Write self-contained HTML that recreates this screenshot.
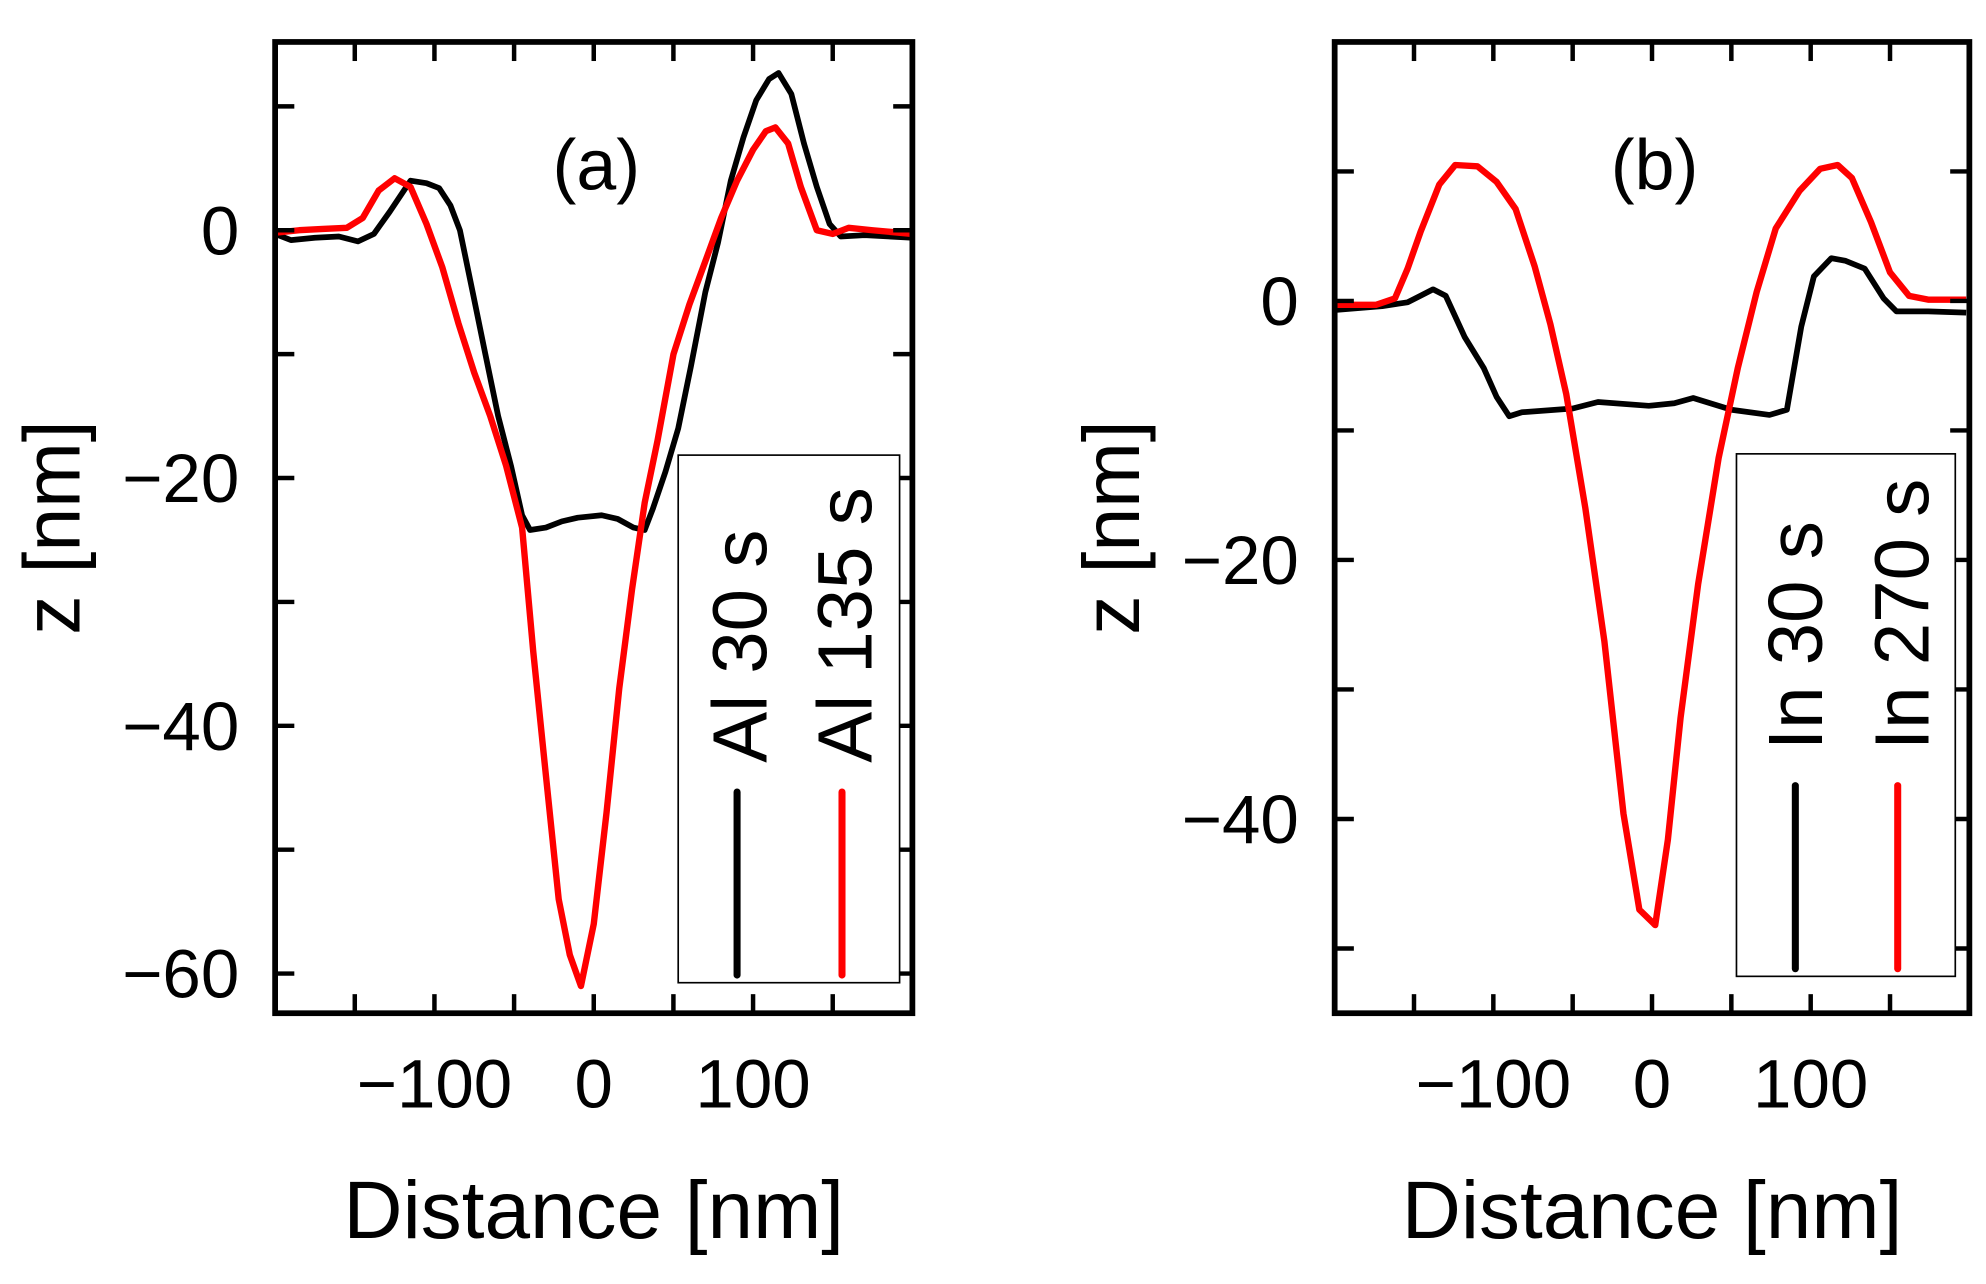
<!DOCTYPE html>
<html><head><meta charset="utf-8"><style>
html,body{margin:0;padding:0;background:#fff;}
svg{display:block;}
text{font-family:"Liberation Sans",Arial,sans-serif;fill:#000;}
</style></head>
<body>
<svg id="fig" width="1986" height="1284" viewBox="0 0 1552 1010" preserveAspectRatio="none" xmlns="http://www.w3.org/2000/svg"></svg>
<script>
// Panel (a) data
const aBlackX = [-200,-190,-175,-160,-148,-138,-128,-115,-105,-97,-90,-84,-76,-68,-60,-52,-45,-40,-30,-20,-10,5,15,25,32,37,45,53,61,70,78,86,94,102,110,116,124,132,140,148,155,170,200];
const aBlackY = [-0.3,-0.8,-0.6,-0.5,-0.9,-0.3,1.5,4,3.8,3.4,2,0,-5,-10,-15,-19,-23,-24.2,-24,-23.5,-23.2,-23,-23.3,-24,-24.2,-22.5,-19.5,-16,-11,-5,-1,4,7.5,10.5,12.2,12.7,11,7,3.5,0.5,-0.5,-0.4,-0.6];
const aRedX = [-200,-185,-170,-155,-145,-135,-125,-115,-105,-95,-85,-75,-65,-55,-45,-38,-30,-22,-15,-8,0,8,16,24,32,40,50,60,70,80,90,100,108,114,122,130,140,150,160,175,200];
const aRedY = [-0.2,0,0.1,0.2,1,3.2,4.2,3.5,0.5,-3,-7.5,-11.5,-15,-19,-24,-34,-44,-54,-58.5,-61,-56,-47,-37,-29,-22,-17,-10,-6,-2.5,1,4,6.5,8,8.3,7,3.5,0,-0.3,0.2,0,-0.3];
// Panel (b) data
const bBlackX = [-200,-170,-154,-146,-138,-130,-118,-106,-98,-90,-82,-50,-34,-2,14,26,50,74,85,94,102,113,122,134,146,154,174,198];
const bBlackY = [-0.7,-0.4,-0.1,0.4,0.9,0.4,-2.8,-5.2,-7.4,-8.9,-8.6,-8.3,-7.8,-8.1,-7.9,-7.5,-8.4,-8.8,-8.4,-2,1.9,3.3,3.1,2.5,0.2,-0.8,-0.8,-0.9];
const bRedX = [-200,-174,-162,-154,-146,-134,-124,-110,-98,-86,-74,-64,-54,-42,-30,-18,-8,2,10,18,29,42,54,66,78,93,106,117,126,138,150,162,174,198];
const bRedY = [-0.3,-0.3,0.2,2.5,5.3,9,10.5,10.4,9.2,7.1,2.7,-1.8,-7.2,-16,-26.3,-39.6,-47,-48.2,-41.6,-32.2,-21.9,-12.1,-5.2,0.7,5.6,8.5,10.2,10.5,9.5,6.1,2.2,0.4,0.1,0.1];
const xTicks = [-150,-100,-50,0,50,100,150];
const xLabels = [-100,0,100];
const aYTicks = [10,0,-10,-20,-30,-40,-50,-60];
const aYLabels = [0,-20,-40,-60];
const bYTicks = [10,0,-10,-20,-30,-40,-50];
const bYLabels = [0,-20,-40];

const NS="http://www.w3.org/2000/svg";
const svg=document.getElementById('fig');
function mk(tag,attrs,parent){const e=document.createElementNS(NS,tag);for(const k in attrs)e.setAttribute(k,attrs[k]);(parent||svg).appendChild(e);return e;}

function panel(cfg){
  const g=mk('g',{});
  
  
  const L=cfg.L,R=cfg.R,T=33,B=797;
  const sx=v=>L+(v+200)/400*(R-L);
  const sy=v=>T+(cfg.ymax-v)/(cfg.ymax-cfg.ymin)*(B-T);
  const clipId='clip'+cfg.tag;
  const cp=mk('clipPath',{id:clipId},g);mk('rect',{x:L,y:T,width:R-L,height:B-T},cp);
  cfg.series.forEach(s=>{
    const d=s.x.map((v,i)=>(i?'L':'M')+sx(v).toFixed(1)+','+sy(s.y[i]).toFixed(1)).join(' ');
    const p=mk('path',{d:d,fill:'none',stroke:s.color,'stroke-width':s.w,'stroke-linejoin':'round','clip-path':'url(#'+clipId+')'},g);
    
    
  });
  xTicks.forEach(v=>{
    mk('line',{x1:sx(v),x2:sx(v),y1:B,y2:B-15,stroke:'#000','stroke-width':3.5},g);
    mk('line',{x1:sx(v),x2:sx(v),y1:T,y2:T+15,stroke:'#000','stroke-width':3.5},g);
  });
  cfg.yTicks.forEach(v=>{
    mk('line',{x1:L,x2:L+15,y1:sy(v),y2:sy(v),stroke:'#000','stroke-width':3.5},g);
    mk('line',{x1:R,x2:R-15,y1:sy(v),y2:sy(v),stroke:'#000','stroke-width':3.5},g);
  });
  const fr=mk('rect',{x:L,y:T,width:R-L,height:B-T,fill:'none',stroke:'#000','stroke-width':4.5},g);
  
  
  xLabels.forEach(v=>{
    const t=mk('text',{x:sx(v),y:871,'font-size':54,'text-anchor':'middle'},g);
    t.textContent=(v<0?'\u2212':'')+Math.abs(v);
    
    
  });
  cfg.yLabels.forEach(v=>{
    const t=mk('text',{x:L-28,y:sy(v)+19,'font-size':54,'text-anchor':'end'},g);
    t.textContent=(v<0?'\u2212':'')+Math.abs(v);
    
    
  });
  const xt=mk('text',{x:(L+R)/2,y:974,'font-size':64,'text-anchor':'middle'},g);
  xt.textContent='Distance [nm]';
  
  
  const yt=mk('text',{x:0,y:0,'font-size':62,'text-anchor':'middle',transform:'translate('+cfg.ytx+',415) rotate(-90)'},g);
  yt.textContent='z [nm]';
  
  
  const pl=mk('text',{x:(L+R)/2+2,y:149,'font-size':56,'text-anchor':'middle'},g);
  pl.textContent=cfg.label;
  
  
  const lg=mk('g',{},g);
  
  
  mk('rect',{x:cfg.lx1,y:cfg.ly1,width:cfg.lx2-cfg.lx1,height:cfg.ly2-cfg.ly1,fill:'#fff',stroke:'#000','stroke-width':1.3},lg);
  cfg.legend.forEach(e=>{
    const en=mk('g',{},lg);
    
    
    mk('line',{x1:e.lineX,x2:e.lineX,y1:cfg.ly2-150,y2:cfg.ly2-6,stroke:e.color,'stroke-width':5.5,'stroke-linecap':'round'},en);
    const t=mk('text',{x:0,y:0,'font-size':60,transform:'translate('+e.textX+','+cfg.ty+') rotate(-90)'},en);
    t.textContent=e.text;
  });
}

panel({name:'panel-a',tag:'a',L:215,R:713,ymax:15.2,ymin:-63.2,yTicks:aYTicks,yLabels:aYLabels,ytx:62,label:'(a)',
  series:[{name:'line-al-30s',x:aBlackX,y:aBlackY,color:'#000',w:4.5},{name:'line-al-135s',x:aRedX,y:aRedY,color:'#f00',w:5}],
  lx1:530,lx2:703,ly1:358,ly2:773,ty:600,
  legend:[{text:'Al 30 s',color:'#000',lineX:576,textX:599},{text:'Al 135 s',color:'#f00',lineX:658,textX:681}]});
panel({name:'panel-b',tag:'b',L:1043,R:1539,ymax:20,ymin:-55,yTicks:bYTicks,yLabels:bYLabels,ytx:890,label:'(b)',
  series:[{name:'line-in-30s',x:bBlackX,y:bBlackY,color:'#000',w:4.5},{name:'line-in-270s',x:bRedX,y:bRedY,color:'#f00',w:5}],
  lx1:1357,lx2:1528,ly1:357,ly2:768,ty:590,
  legend:[{text:'In 30 s',color:'#000',lineX:1403,textX:1424},{text:'In 270 s',color:'#f00',lineX:1483,textX:1507}]});
</script>
</body></html>
